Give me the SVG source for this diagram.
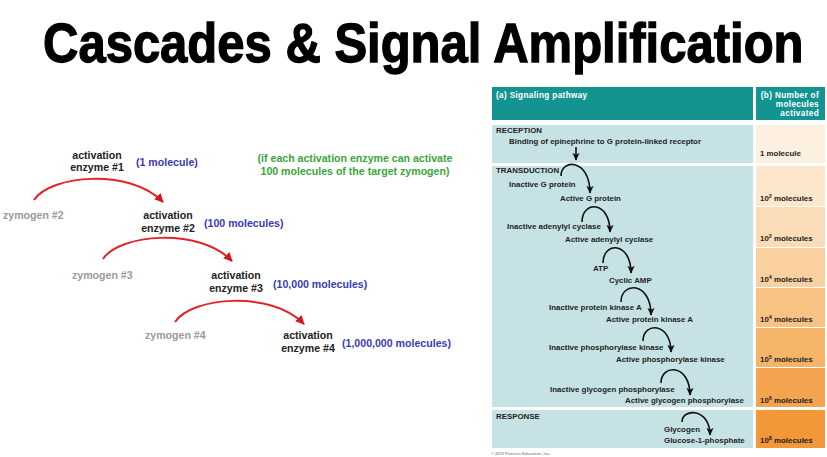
<svg xmlns="http://www.w3.org/2000/svg" width="827" height="457" viewBox="0 0 827 457">
<defs>
<style>
.t{font-family:"Liberation Sans",Arial,sans-serif;font-weight:bold}
.lab{font-size:10.6px;fill:#222}
.blue{font-size:10.6px;fill:#3a3ab4}
.green{font-size:10.6px;fill:#3aa63a}
.zym{font-size:10.6px;fill:#9a9a9a}
.p{font-size:7.9px;fill:#222}
.hd{font-size:8.2px;fill:#fff;letter-spacing:0.35px}
.red{fill:none;stroke:#e2232a;stroke-width:2}
.blk{fill:none;stroke:#111;stroke-width:1.6}
.panel{fill:#c7e2e4}
.head{fill:#149490}
</style>
<marker id="ra" viewBox="0 0 10 10" refX="9" refY="5" markerWidth="9" markerHeight="9" markerUnits="userSpaceOnUse" orient="auto">
<path d="M0,0 L10,5 L0,10 z" fill="#d01820"/>
</marker>
<marker id="ba" viewBox="0 0 10 10" refX="9" refY="5" markerWidth="8" markerHeight="8" markerUnits="userSpaceOnUse" orient="auto">
<path d="M0,0.5 L10,5 L0,9.5 L2.5,5 z" fill="#111"/>
</marker>
</defs>
<rect width="827" height="457" fill="#fff"/>
<text id="title" class="t" transform="translate(43,62) scale(0.875,1)" font-size="56" fill="#000" stroke="#000" stroke-width="1.3">Cascades &amp; Signal Amplification</text>

<!-- Left cascade -->
<g id="connectors-left">
<path class="red" d="M34,200 C50,175 130,168 163,202" marker-end="url(#ra)"/>
<path class="red" d="M103,259 C119,234 199,227 232,261" marker-end="url(#ra)"/>
<path class="red" d="M175,322 C191,297 271,290 304,324" marker-end="url(#ra)"/>
</g>
<g id="enzyme1" class="t">
<text class="lab" x="97" y="159" text-anchor="middle">activation</text>
<text class="lab" x="97" y="171" text-anchor="middle">enzyme #1</text>
<text class="blue" x="136" y="166">(1 molecule)</text>
</g>
<g id="note" class="t">
<text class="green" x="355" y="162" text-anchor="middle">(if each activation enzyme can activate</text>
<text class="green" x="355" y="175" text-anchor="middle">100 molecules of the target zymogen)</text>
</g>
<g id="zymogen2" class="t"><text class="zym" x="3" y="219">zymogen #2</text></g>
<g id="enzyme2" class="t">
<text class="lab" x="168" y="219" text-anchor="middle">activation</text>
<text class="lab" x="168" y="232" text-anchor="middle">enzyme #2</text>
<text class="blue" x="204" y="227">(100 molecules)</text>
</g>
<g id="zymogen3" class="t"><text class="zym" x="72" y="279">zymogen #3</text></g>
<g id="enzyme3" class="t">
<text class="lab" x="236" y="279" text-anchor="middle">activation</text>
<text class="lab" x="236" y="292" text-anchor="middle">enzyme #3</text>
<text class="blue" x="273" y="288">(10,000 molecules)</text>
</g>
<g id="zymogen4" class="t"><text class="zym" x="145" y="339">zymogen #4</text></g>
<g id="enzyme4" class="t">
<text class="lab" x="308" y="339" text-anchor="middle">activation</text>
<text class="lab" x="308" y="352" text-anchor="middle">enzyme #4</text>
<text class="blue" x="342" y="347">(1,000,000 molecules)</text>
</g>

<!-- Right figure -->
<g id="header-a">
<rect class="head" x="492" y="87" width="261" height="33"/>
<text class="t hd" x="496" y="98">(a) Signaling pathway</text>
</g>
<g id="header-b">
<rect class="head" x="756" y="87" width="69" height="33"/>
<text class="t hd" x="819" y="98" text-anchor="end">(b) Number of</text>
<text class="t hd" x="819" y="107" text-anchor="end">molecules</text>
<text class="t hd" x="819" y="116" text-anchor="end">activated</text>
</g>
<g id="reception">
<rect class="panel" x="492" y="125" width="261" height="38"/>
<text class="t p" x="496" y="133">RECEPTION</text>
<text class="t p" x="509" y="144">Binding of epinephrine to G protein-linked receptor</text>
</g>
<g id="transduction">
<rect class="panel" x="492" y="166" width="261" height="241"/>
<text class="t p" x="496" y="173">TRANSDUCTION</text>
<text class="t p" x="509" y="187">Inactive G protein</text>
<text class="t p" x="560" y="201">Active G protein</text>
<text class="t p" x="507" y="229">Inactive adenylyl cyclase</text>
<text class="t p" x="565" y="242">Active adenylyl cyclase</text>
<text class="t p" x="593" y="271">ATP</text>
<text class="t p" x="609" y="283">Cyclic AMP</text>
<text class="t p" x="549" y="310">Inactive protein kinase A</text>
<text class="t p" x="606" y="322">Active protein kinase A</text>
<text class="t p" x="549" y="350">Inactive phosphorylase kinase</text>
<text class="t p" x="616" y="362">Active phosphorylase kinase</text>
<text class="t p" x="550" y="392">Inactive glycogen phosphorylase</text>
<text class="t p" x="625" y="403">Active glycogen phosphorylase</text>
</g>
<g id="response">
<rect class="panel" x="492" y="410" width="261" height="38"/>
<text class="t p" x="496" y="419">RESPONSE</text>
<text class="t p" x="664" y="432">Glycogen</text>
<text class="t p" x="664" y="443">Glucose-1-phosphate</text>
</g>
<g id="counts">
<rect x="756" y="125" width="69" height="38" fill="#fdf0e1"/>
<rect x="756" y="166" width="69" height="40" fill="#fce6cc"/>
<rect x="756" y="207" width="69" height="40" fill="#fbdcb8"/>
<rect x="756" y="248" width="69" height="39" fill="#fad0a0"/>
<rect x="756" y="288" width="69" height="39" fill="#f8c282"/>
<rect x="756" y="328" width="69" height="39" fill="#f6b468"/>
<rect x="756" y="368" width="69" height="39" fill="#f4a44e"/>
<rect x="756" y="410" width="69" height="38" fill="#f29838"/>
<text class="t p" x="760" y="156">1 molecule</text>
<text class="t p" x="760" y="201">10<tspan font-size="5.5" dy="-2.8">2</tspan><tspan dy="2.8"> molecules</tspan></text>
<text class="t p" x="760" y="241">10<tspan font-size="5.5" dy="-2.8">2</tspan><tspan dy="2.8"> molecules</tspan></text>
<text class="t p" x="760" y="282">10<tspan font-size="5.5" dy="-2.8">4</tspan><tspan dy="2.8"> molecules</tspan></text>
<text class="t p" x="760" y="322">10<tspan font-size="5.5" dy="-2.8">4</tspan><tspan dy="2.8"> molecules</tspan></text>
<text class="t p" x="760" y="362">10<tspan font-size="5.5" dy="-2.8">5</tspan><tspan dy="2.8"> molecules</tspan></text>
<text class="t p" x="760" y="403">10<tspan font-size="5.5" dy="-2.8">6</tspan><tspan dy="2.8"> molecules</tspan></text>
<text class="t p" x="760" y="443">10<tspan font-size="5.5" dy="-2.8">8</tspan><tspan dy="2.8"> molecules</tspan></text>
</g>
<g id="connectors-right">
<path class="blk" d="M576,147 L576,160" marker-end="url(#ba)"/>
<path class="blk" d="M561,176 C561,158.5 590,158.5 590,193" marker-end="url(#ba)"/>
<path class="blk" d="M582,222 C582,200.3 610,200.3 610,232" marker-end="url(#ba)"/>
<path class="blk" d="M603,263 C603,241.3 631,241.3 631,273" marker-end="url(#ba)"/>
<path class="blk" d="M621,302 C621,281.2 651,281.2 651,315" marker-end="url(#ba)"/>
<path class="blk" d="M643,341 C643,321.9 671,321.9 671,352" marker-end="url(#ba)"/>
<path class="blk" d="M661,383 C661,363.7 690,363.7 690,395" marker-end="url(#ba)"/>
<path class="blk" d="M682,422 C682,407.9 710,407.9 710,435" marker-end="url(#ba)"/>
</g>
<text class="t" x="491" y="455" font-size="4" font-weight="normal" fill="#999">© 2012 Pearson Education, Inc.</text>
</svg>
